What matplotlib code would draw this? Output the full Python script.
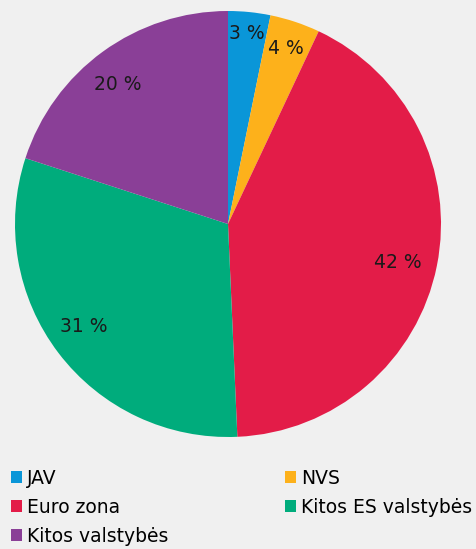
import matplotlib.pyplot as plt
import numpy as np

labels = ['JAV', 'NVS', 'Euro zona', 'Kitos ES valstybės', 'Kitos valstybės']
values = [3.2, 3.8, 42.3, 30.7, 20.0]
pct_text = ['3 %', '4 %', '42 %', '31 %', '20 %']
colors = ['#0a96d8', '#fdb11b', '#e31c48', '#00ac7c', '#8a3f97']

# label placement: fraction of radius and small angular nudge (deg)
label_r = [0.90, 0.87, 0.82, 0.83, 0.835]
label_da = [0, 0, -1.5, -2.0, 2.3]

bg = '#f0f0f0'
fs = 13.5

fig = plt.figure(figsize=(4.76, 5.49), dpi=100, facecolor=bg)
ax = fig.add_axes([0, 0, 1, 1])
ax.set_facecolor(bg)

cx, cy, r = 228, 549 - 224, 213
wedges, _ = ax.pie(values, colors=colors, startangle=90, counterclock=False,
                   center=(cx, cy), radius=r, wedgeprops=dict(linewidth=0))

# percentage labels
for w, t, lr, da in zip(wedges, pct_text, label_r, label_da):
    mid = np.deg2rad((w.theta1 + w.theta2) / 2 + da)
    ax.text(cx + lr * r * np.cos(mid), cy + lr * r * np.sin(mid), t,
            ha='center', va='center', fontsize=fs, color='#1a1a1a')

ax.set_xlim(0, 476)
ax.set_ylim(0, 549)
ax.set_aspect('auto')
ax.axis('off')

# legend, filled column-wise -> reorder so rows read JAV/NVS, Euro/Kitos ES, Kitos valst.
order = [0, 2, 4, 1, 3]
fig.legend([wedges[i] for i in order], [labels[i] for i in order],
           ncol=2, loc='upper left', bbox_to_anchor=(11 / 476, 1 - 469 / 549),
           frameon=False, fontsize=fs, handlelength=0.6, handleheight=0.6,
           handletextpad=0.27, columnspacing=6.2, labelspacing=0.53,
           borderaxespad=0, borderpad=0)

fig.savefig('out.png', dpi=100, facecolor=bg)
